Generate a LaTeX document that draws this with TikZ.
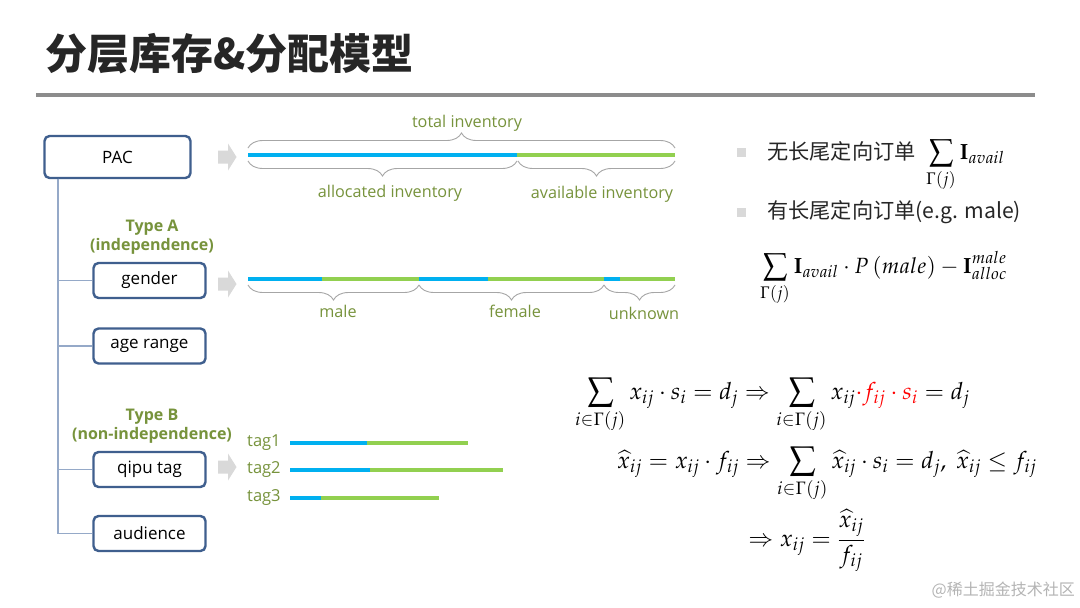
\documentclass[tikz,border=0pt]{standalone}
\usepackage{mathpazo}
\usepackage[no-math]{fontspec}
\setmainfont{Open Sans}
\newfontfamily\cjk{Noto Sans CJK SC}
\usetikzlibrary{decorations.pathreplacing}
\definecolor{boxblue}{HTML}{3F5F8E}
\definecolor{treeblue}{HTML}{95A9C8}
\definecolor{lblgreen}{HTML}{77933C}
\definecolor{bargreen}{HTML}{92D050}
\definecolor{barblue}{HTML}{00B0F0}
\definecolor{bracegray}{HTML}{A6A6A6}
\definecolor{arrowgray}{HTML}{D9D9D9}
\definecolor{rulegray}{HTML}{8C8C8C}
\definecolor{titlegray}{HTML}{262626}
\definecolor{wmgray}{HTML}{B4B4B4}
\tikzset{
  catbox/.style={draw=boxblue, line width=2.4pt, rounded corners=5pt, fill=white,
    text=black, font=\fontsize{17}{20}\selectfont, inner sep=0pt},
  treeline/.style={draw=treeblue, line width=1.6pt},
  bluebar/.style={draw=barblue, line width=4pt},
  greenbar/.style={draw=bargreen, line width=4pt},
  invbrace/.style={draw=bracegray, line width=0.9pt, decorate,
    decoration={brace, amplitude=15pt, aspect=0.5}},
  glabel/.style={text=lblgreen, font=\fontsize{16.2}{19}\selectfont, inner sep=0pt},
  typelabel/.style={text=lblgreen, font=\bfseries\fontsize{16}{18.5}\selectfont, align=center, inner sep=0pt},
  garrow/.pic={\fill[arrowgray] (0,-6.5) -- (10,-6.5) -- (10,-13.5) -- (18.5,0) -- (10,13.5) -- (10,6.5) -- (0,6.5) -- cycle;},
  mathnode/.style={inner sep=0pt, font=\fontsize{23.6}{27}\selectfont},
  smallmath/.style={inner sep=0pt, font=\fontsize{22}{26}\selectfont},
  cjktext/.style={inner sep=0pt, font=\cjk\fontsize{21.2}{25}\selectfont, text=titlegray},
  bulletsq/.style={fill=arrowgray, minimum size=9pt, inner sep=0pt}
}
\begin{document}
\begin{tikzpicture}[x=1pt,y=-1pt]
\useasboundingbox[fill=white] (0,0) rectangle (1080,608);

% title
\node[anchor=west, inner sep=0pt, text=titlegray, font=\cjk\bfseries\fontsize{42}{47}\selectfont] (title) at (45,54) {分层库存\&分配模型};
\coordinate (ruleL) at (36,95);
\coordinate (ruleR) at (1035,95);
\draw[rulegray, line width=3.5pt] (ruleL) -- (ruleR);

% tree boxes
\node[catbox, minimum width=146pt, minimum height=42pt] (PAC) at (117.5,157) {PAC};
\node[catbox, minimum width=112pt, minimum height=35pt] (gender) at (149.5,280.5) {gender};
\node[catbox, minimum width=112pt, minimum height=35pt] (age) at (149.5,346) {age range};
\node[catbox, minimum width=112pt, minimum height=35pt] (qipu) at (149.5,469.5) {qipu tag};
\node[catbox, minimum width=112pt, minimum height=35pt] (audience) at (149.5,533.5) {audience};

\coordinate (trunk) at (58,178.5);
\draw[treeline] (trunk) |- (audience.west);
\draw[treeline] (trunk) |- (gender.west);
\draw[treeline] (trunk) |- (age.west);
\draw[treeline] (trunk) |- (qipu.west);

\node[typelabel] (typeA) at (152,237) {Type A\\(independence)};
\node[typelabel] (typeB) at (152,426) {Type B\\(non-independence)};

% gray arrows
\pic at (218,157) {garrow};
\pic at (218,284) {garrow};
\pic at (218,467) {garrow};

% PAC bar
\draw[bluebar] (248,155) -- (517,155);
\draw[greenbar] (517,155) -- (675,155);
\coordinate (tb1) at (248,148);
\coordinate (tb2) at (675,148);
\draw[invbrace] (tb1) -- (tb2);
\coordinate (ab1) at (517,161);
\coordinate (ab2) at (248,161);
\draw[invbrace] (ab1) -- (ab2);
\coordinate (vb1) at (675,161);
\coordinate (vb2) at (518,161);
\draw[invbrace] (vb1) -- (vb2);
\node[glabel] (total) at (467,123) {total inventory};
\node[glabel] (alloc) at (390,193) {allocated inventory};
\node[glabel] (avail) at (602,194) {available inventory};

% gender bar
\draw[bluebar] (248,279) -- (322,279);
\draw[greenbar] (322,279) -- (419,279);
\draw[bluebar] (419,279) -- (488,279);
\draw[greenbar] (488,279) -- (604,279);
\draw[bluebar] (604,279) -- (620,279);
\draw[greenbar] (620,279) -- (675,279);
\coordinate (gb1) at (419,285);
\coordinate (gb2) at (248,285);
\draw[invbrace] (gb1) -- (gb2);
\coordinate (gb3) at (604,285);
\coordinate (gb4) at (419,285);
\draw[invbrace] (gb3) -- (gb4);
\coordinate (gb5) at (675,285);
\coordinate (gb6) at (604,285);
\draw[invbrace] (gb5) -- (gb6);
\node[glabel] (male) at (338,311) {male};
\node[glabel] (female) at (515,311) {female};
\node[glabel] (unknown) at (644,313) {unknown};

% tags
\node[glabel, anchor=west, font=\fontsize{16.5}{19}\selectfont] (tag1) at (247,443) {tag1};
\node[glabel, anchor=west, font=\fontsize{16.5}{19}\selectfont] (tag2) at (247,470) {tag2};
\node[glabel, anchor=west, font=\fontsize{16.5}{19}\selectfont] (tag3) at (247,498) {tag3};
\draw[bluebar] (290,443) -- (367,443);
\draw[greenbar] (367,443) -- (468,443);
\draw[bluebar] (290,470) -- (370,470);
\draw[greenbar] (370,470) -- (503,470);
\draw[bluebar] (290,498) -- (321,498);
\draw[greenbar] (321,498) -- (439,498);

% right bullets
\node[bulletsq] (b1) at (741,152) {};
\node[bulletsq] (b2) at (741,212) {};
\node[cjktext, anchor=west] (t1) at (767,151) {无长尾定向订单};
\node[cjktext, anchor=west] (t2) at (767,212) {有长尾定向订单(e.g. male)};
\node[smallmath, anchor=base west] (f1) at (926,159) {$\displaystyle\sum_{\Gamma(j)}\mathbf{I}_{avail}$};
\node[smallmath, anchor=base west] (f2) at (760,273) {$\displaystyle\sum_{\Gamma(j)}\mathbf{I}_{avail}\cdot P\left(male\right)-\mathbf{I}_{alloc}^{male}$};

% equations
\node[mathnode, anchor=base west] (e1) at (575,399) {$\displaystyle\sum_{i\in\Gamma(j)} x_{ij}\cdot s_i = d_j \Rightarrow \sum_{i\in\Gamma(j)} x_{ij}\textcolor{red}{\cdot f_{ij}\cdot s_i} = d_j$};
\node[mathnode, anchor=base west] (e2) at (617,468) {$\displaystyle\widehat{x}_{ij} = x_{ij}\cdot f_{ij} \Rightarrow \sum_{i\in\Gamma(j)} \widehat{x}_{ij}\cdot s_i = d_j,\ \widehat{x}_{ij}\le f_{ij}$};
\node[mathnode, anchor=base west] (e3) at (748,546) {$\displaystyle\Rightarrow x_{ij} = \frac{\widehat{x}_{ij}}{f_{ij}}$};

% watermark
\node[anchor=east, inner sep=0pt, text=wmgray, font=\cjk\fontsize{16}{19}\selectfont] (wm) at (1075,590) {@稀土掘金技术社区};
\end{tikzpicture}
\end{document}
